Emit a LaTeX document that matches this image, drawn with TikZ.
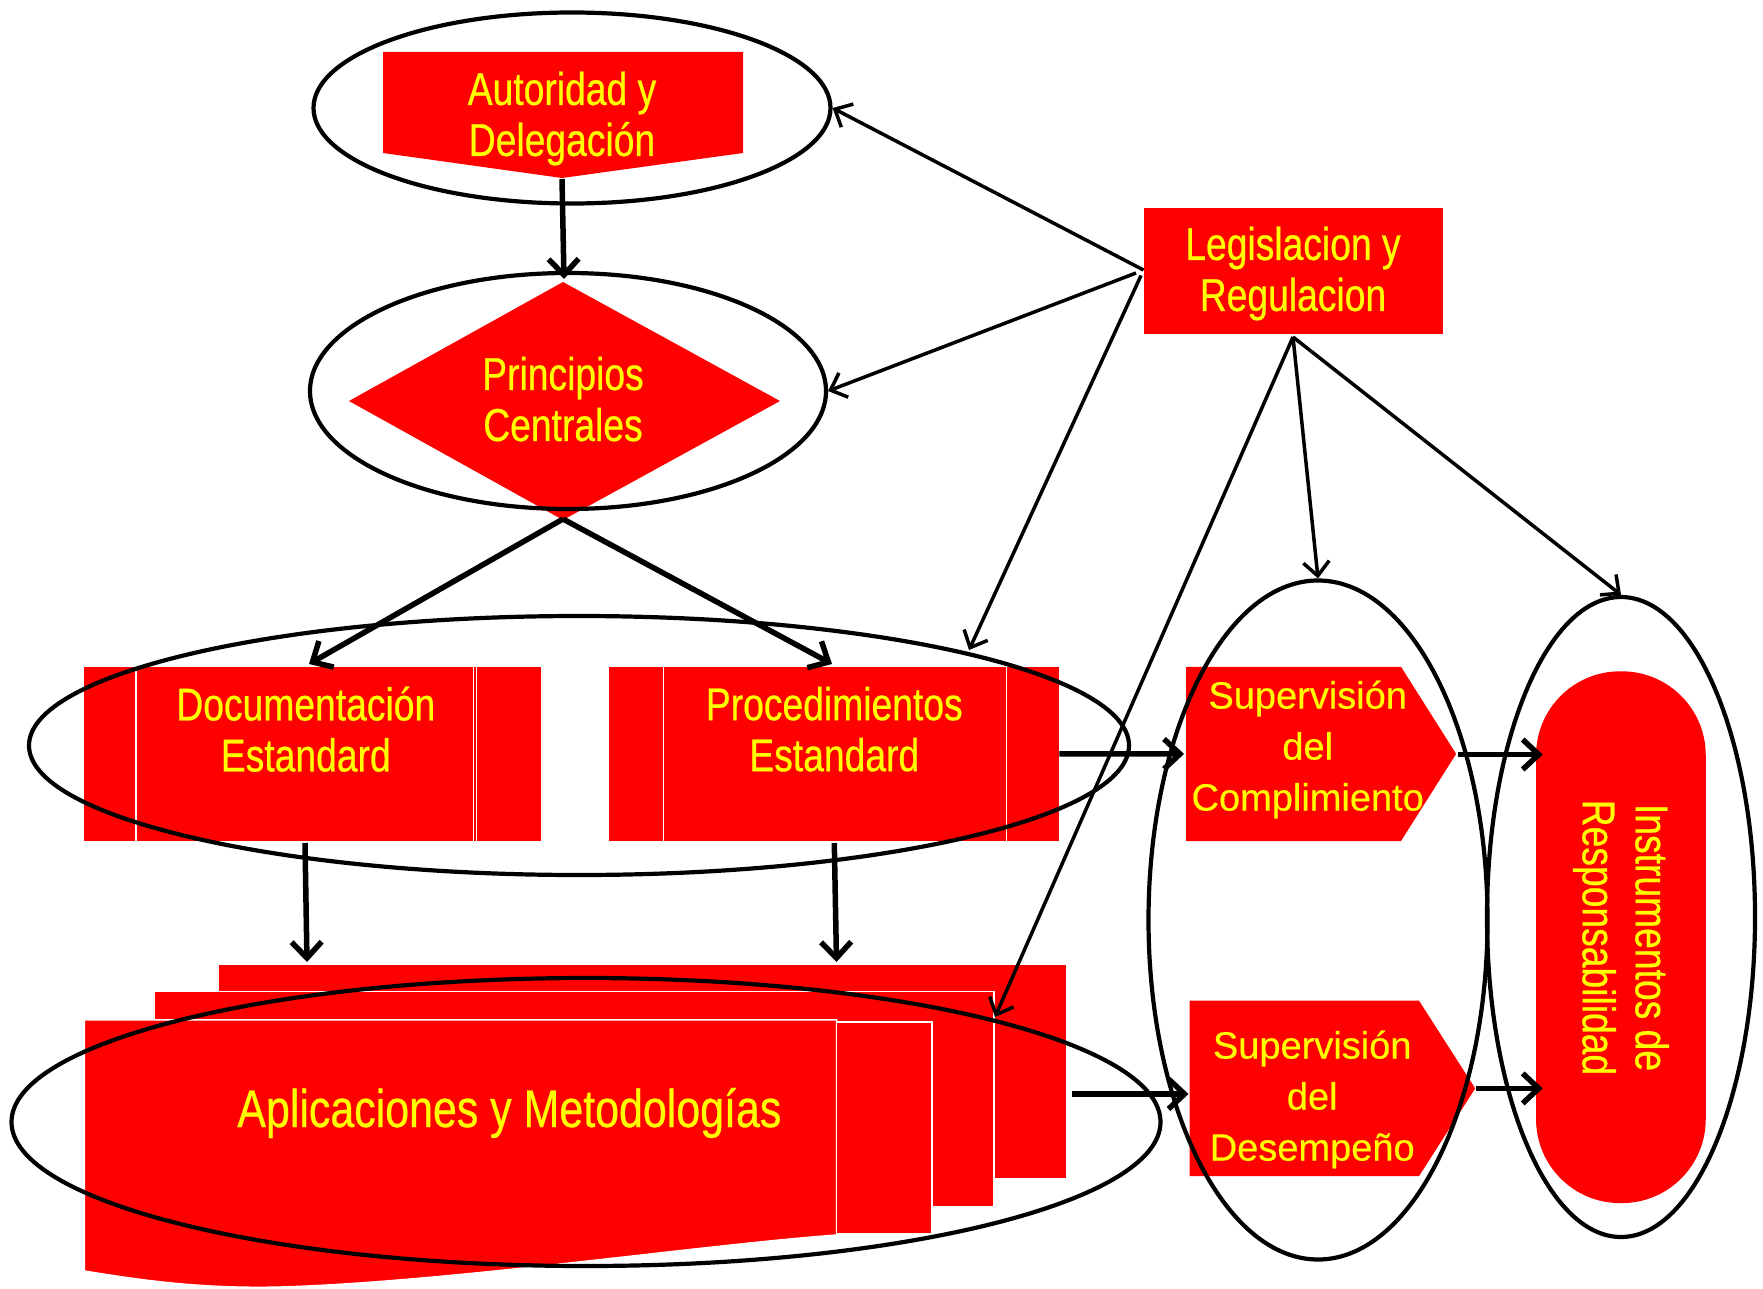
\documentclass[tikz,border=0pt]{standalone}
\usepackage{fontspec}
\setmainfont{Liberation Sans}[FakeBold=0.3]
\newfontfamily\narrowf[FakeStretch=0.81,FakeBold=0.5]{Liberation Sans}
\newfontfamily\widef[FakeBold=0.4]{Liberation Sans}
\usetikzlibrary{shapes.geometric,arrows.meta}
\definecolor{boxred}{RGB}{255,0,0}
\definecolor{txtyel}{RGB}{255,255,0}
\begin{document}
\begin{tikzpicture}[x=1pt,y=-1pt,
  ring/.style={draw=black,line width=4.2pt,shape=ellipse,inner sep=0pt},
  redbox/.style={fill=boxred,draw=none,shape=rectangle,inner sep=0pt},
  sep/.style={draw=white,line width=1.5pt},
  lbl/.style={text=txtyel,align=center,inner sep=0pt,font=\narrowf\fontsize{46}{51}\selectfont},
  lblw/.style={text=txtyel,align=center,inner sep=0pt,font=\widef\fontsize{38}{51}\selectfont},
  flow/.style={line width=5.5pt,-{Straight Barb[length=16pt,width=30pt]}},
  legarrow/.style={line width=3.5pt,-{Straight Barb[length=14pt,width=26pt]}},
]
\useasboundingbox (0,0) rectangle (1763,1289);

% ---------- Autoridad y Delegacion
\fill[boxred] (383,52) -- (743,52) -- (743,153) -- (562,178) -- (383,153) -- cycle;
\coordinate (autTip) at (562,179);
\node[lbl] (aut) at (562,118.5) {Autoridad y\\Delegación};

% ---------- Principios Centrales
\fill[boxred] (349,401) -- (563,282) -- (780,401) -- (563,520) -- cycle;
\coordinate (prinTop) at (564,279);
\coordinate (prinBot) at (563,519);
\node[lbl] (prin) at (563,399) {Principios\\Centrales};

% ---------- Documentacion / Procedimientos
\node[redbox,minimum width=456.5pt,minimum height=174.2pt] (doc) at (312.5,753.9) {};
\draw[sep] (136,666.8) -- (136,841) (473.4,666.8) -- (473.4,841) (476.7,666.8) -- (476.7,841);
\node[lbl] (doct) at (305.8,729.2) {Documentación\\Estandard};
\node[redbox,minimum width=449.8pt,minimum height=174.2pt] (proc) at (834.3,753.9) {};
\draw[sep] (663.4,666.8) -- (663.4,841) (1006.3,666.8) -- (1006.3,841);
\node[lbl] (proct) at (834.3,729.2) {Procedimientos\\Estandard};
\coordinate (docIn) at (309,664);
\coordinate (procIn) at (832,664);
\coordinate (docOut) at (305,843);
\coordinate (procOut) at (834.3,843);

% ---------- Aplicaciones y Metodologias
\fill[boxred] (219.3,964.7) rectangle (1066,1178.4);
\filldraw[boxred,sep] (154,991.7) rectangle (994,1206.5);
\filldraw[boxred,sep] (84.3,1019.8) -- (836.6,1019.8) -- (836.6,1235)
  .. controls (700,1245) and (450,1282) .. (281,1287)
  .. controls (200,1289) and (140,1280) .. (84.3,1271) -- cycle;
\filldraw[boxred,sep] (836.6,1022) rectangle (932.1,1233.5);
\node[text=txtyel,inner sep=0pt,font=\narrowf\fontsize{53}{60}\selectfont] (apt) at (509.4,1113) {Aplicaciones y Metodologías};
\coordinate (apInL) at (307,962);
\coordinate (apInR) at (836.5,962);
\coordinate (apHit) at (995,1017);
\coordinate (apOut) at (1072,1094);

% ---------- Legislacion y Regulacion
\node[redbox,minimum width=299pt,minimum height=126pt] (leg) at (1293,271) {};
\node[lbl] (legt) at (1293,273.5) {Legislacion y\\Regulacion};
\coordinate (legW1) at (1143.5,270);
\coordinate (legW2) at (1136,273);
\coordinate (legW3) at (1141,275.5);
\coordinate (legS) at (1293,337);

% ---------- Supervision shapes
\fill[boxred] (1186.2,666.8) -- (1401,666.8) -- (1456.1,753.9) -- (1401,841) -- (1186.2,841) -- cycle;
\node[lblw] (s1t) at (1307.7,749.5) {Supervisión\\del\\Complimiento};
\fill[boxred] (1189.6,1000.7) -- (1419,1000.7) -- (1475.2,1088.4) -- (1419,1176.1) -- (1189.6,1176.1) -- cycle;
\node[lblw] (s2t) at (1312.2,1099.5) {Supervisión\\del\\Desempeño};
\coordinate (s1In) at (1184,754);
\coordinate (s1Out) at (1458,754.5);
\coordinate (s2In) at (1188.5,1094);
\coordinate (s2Out) at (1476,1088.4);

% ---------- Instrumentos de Responsabilidad
\node[redbox,rounded corners=84pt,minimum width=169.7pt,minimum height=531.8pt] (ins) at (1620.9,937.2) {};
\node[lbl,rotate=-90,font=\narrowf\fontsize{46}{53}\selectfont] (inst) at (1621,937.5) {Instrumentos de\\Responsabilidad};
\coordinate (insIn1) at (1542.7,754.5);
\coordinate (insIn2) at (1542.7,1088.4);

% ---------- grouping rings
\node[ring,minimum width=517pt,minimum height=191pt] (e1) at (572,108) {};
\node[ring,minimum width=516pt,minimum height=236pt] (e2) at (568,391) {};
\node[ring,minimum width=1100pt,minimum height=259pt] (e3) at (579,745.5) {};
\node[ring,minimum width=1149pt,minimum height=288pt] (e4) at (586,1122) {};
\node[ring,minimum width=339pt,minimum height=679pt] (es) at (1318,920) {};
\node[ring,minimum width=268pt,minimum height=640pt] (er) at (1621,917) {};
\coordinate (e3Hit) at (969,650);

% ---------- connectors
\draw[flow] (autTip) -- (prinTop);
\draw[flow] (prinBot) -- (docIn);
\draw[flow] (prinBot) -- (procIn);
\draw[flow] (docOut) -- (apInL);
\draw[flow] (procOut) -- (apInR);
\draw[flow] (proc.east) -- (s1In);
\draw[flow] (apOut) -- (s2In);
\draw[flow] (s1Out) -- (insIn1);
\draw[flow] (s2Out) -- (insIn2);

\draw[legarrow] (legW1) -- (e1.east);
\draw[legarrow] (legW2) -- (e2.east);
\draw[legarrow] (legW3) -- (e3Hit);
\draw[legarrow] (legS) -- (es.north);
\draw[legarrow] (legS) -- (er.north);
\draw[legarrow] (legS) -- (apHit);
\end{tikzpicture}
\end{document}
